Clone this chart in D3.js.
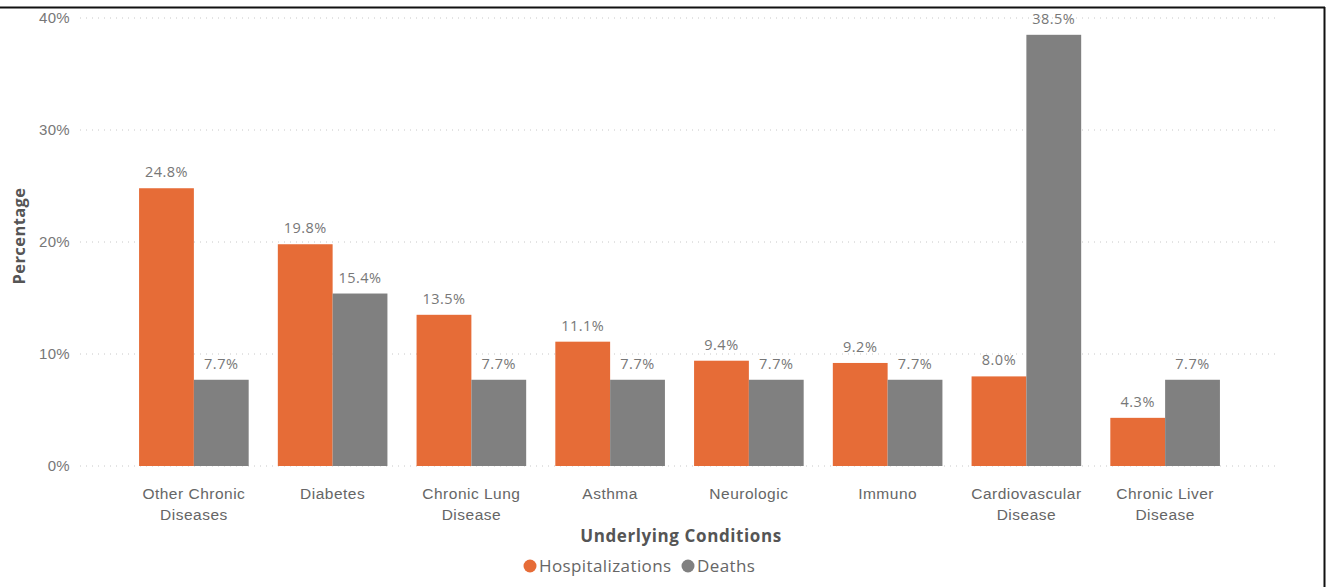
<!DOCTYPE html>
<html>
<head>
<meta charset="utf-8">
<script src="https://cdn.jsdelivr.net/npm/d3@7"></script>
<style>
  html, body { margin: 0; padding: 0; background: #fff; }
  svg { display: block; font-family: "Open Sans", "Noto Sans", sans-serif; }
</style>
</head>
<body>
<svg id="chart" width="1326" height="587"></svg>
<script>
// Share of cases with each underlying condition
const categories = [
  ["Other Chronic", "Diseases"],
  ["Diabetes"],
  ["Chronic Lung", "Disease"],
  ["Asthma"],
  ["Neurologic"],
  ["Immuno"],
  ["Cardiovascular", "Disease"],
  ["Chronic Liver", "Disease"]
];
const hospitalizations = [24.8, 19.8, 13.5, 11.1, 9.4, 9.2, 8.0, 4.3];
const deaths = [7.7, 15.4, 7.7, 7.7, 7.7, 7.7, 38.5, 7.7];
const seriesNames = ["Hospitalizations", "Deaths"];
const yTicks = [0, 10, 20, 30, 40];

const colors = { Hospitalizations: "#E66C37", Deaths: "#808080" };

const svg = d3.select("#chart");
const W = 1326, H = 587;

// Frame lines along the top and right edges
svg.append("line").attr("x1", 0).attr("x2", 1325).attr("y1", 7.5).attr("y2", 7.5)
  .attr("stroke", "#111").attr("stroke-width", 2);
svg.append("line").attr("x1", 1324.5).attr("x2", 1324.5).attr("y1", 7).attr("y2", H)
  .attr("stroke", "#111").attr("stroke-width", 2);

const keys = categories.map((c, i) => i);
const x = d3.scaleBand().domain(keys).range([124.5, 1234.5])
  .paddingInner(0.21).paddingOuter(0.105);
const xs = d3.scaleBand().domain(seriesNames).range([0, x.bandwidth()]);
const y = d3.scaleLinear().domain([0, 40]).range([466, 18]);

// Dotted gridlines
const grid = svg.append("g");
grid.selectAll("line").data(yTicks).join("line")
  .attr("x1", 80).attr("x2", 1280)
  .attr("y1", d => y(d)).attr("y2", d => y(d))
  .attr("stroke", "#c8c8c8").attr("stroke-width", 1)
  .attr("stroke-dasharray", "1,5");

// Y axis labels
const yAxis = d3.axisLeft(y).tickValues(yTicks).tickFormat(d => d + "%").tickSize(0).tickPadding(0);
const yg = svg.append("g").attr("transform", "translate(70,0)").call(yAxis);
yg.select(".domain").remove();
yg.selectAll("text").attr("fill", "#777").attr("font-size", 15).attr("font-family", null)
  .attr("letter-spacing", 0.3).attr("dy", "0.32em");

// Bars
const rows = keys.map(i => ({ i, values: [
  { key: "Hospitalizations", value: hospitalizations[i] },
  { key: "Deaths", value: deaths[i] }
]}));
const groups = svg.append("g").selectAll("g").data(rows).join("g")
  .attr("transform", d => `translate(${x(d.i)},0)`);
groups.selectAll("rect").data(d => d.values).join("rect")
  .attr("x", d => xs(d.key))
  .attr("width", xs.bandwidth())
  .attr("y", d => y(d.value))
  .attr("height", d => y(0) - y(d.value))
  .attr("fill", d => colors[d.key]);

// Value labels above each bar
groups.selectAll("text.val").data(d => d.values).join("text")
  .attr("class", "val")
  .attr("x", d => xs(d.key) + xs.bandwidth() / 2)
  .attr("y", d => y(d.value) - 11)
  .attr("text-anchor", "middle")
  .attr("fill", "#777").attr("font-size", 14.5).attr("letter-spacing", 0.5)
  .text(d => d.value.toFixed(1) + "%");

// Category labels (wrapped on two lines)
const xAxis = d3.axisBottom(x).tickSize(0).tickFormat("");
const xg = svg.append("g").attr("transform", `translate(0,${y(0)})`).call(xAxis);
xg.select(".domain").remove();
xg.selectAll(".tick").each(function(i) {
  const t = d3.select(this).append("text")
    .attr("text-anchor", "middle").attr("fill", "#666").attr("font-size", 15.5)
    .attr("letter-spacing", 0.5)
    .attr("y", 33);
  categories[i].forEach((line, k) => {
    t.append("tspan").attr("x", 0).attr("dy", k === 0 ? 0 : 21).text(line);
  });
});

// Axis titles
svg.append("text").attr("x", 681).attr("y", 542).attr("text-anchor", "middle")
  .attr("font-size", 17).attr("font-weight", "bold").attr("fill", "#555").attr("letter-spacing", 0.6)
  .text("Underlying Conditions");
svg.append("text").attr("transform", "translate(25,236) rotate(-90)")
  .attr("text-anchor", "middle").attr("font-size", 16.5).attr("font-weight", "bold").attr("fill", "#555")
  .attr("letter-spacing", 0.4)
  .text("Percentage");

// Legend
const legend = svg.append("g").attr("transform", "translate(0,566)");
const legendX = [530, 688];
seriesNames.forEach((name, k) => {
  legend.append("circle").attr("cx", legendX[k]).attr("cy", 0).attr("r", 6.5).attr("fill", colors[name]);
  legend.append("text").attr("x", legendX[k] + 9).attr("y", 0).attr("dy", "0.35em")
    .attr("font-size", 17).attr("fill", "#666").attr("letter-spacing", 0.4).text(name);
});
</script>
</body>
</html>
